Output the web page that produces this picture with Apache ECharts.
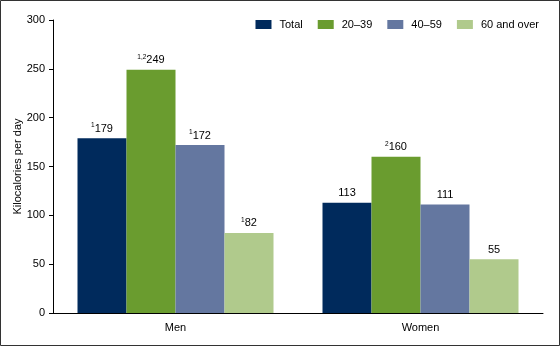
<!DOCTYPE html>
<html>
<head>
<meta charset="utf-8">
<script src="https://cdn.jsdelivr.net/npm/echarts@6/dist/echarts.min.js"></script>
<style>
html,body{margin:0;padding:0;background:#fff;}
#chart{width:560px;height:346px;}
</style>
</head>
<body>
<div id="chart"></div>
<script>
var categories = ['Men', 'Women'];
var seriesNames = ['Total', '20\u201339', '40\u201359', '60 and over'];
var totalValues = [179, 113];
var age2039Values = [249, 160];
var age4059Values = [172, 111];
var age60Values = [82, 55];
var totalNotes = ['1', ''];
var age2039Notes = ['1,2', '2'];
var age4059Notes = ['1', ''];
var age60Notes = ['1', ''];
var yTicks = [0, 50, 100, 150, 200, 250, 300];
var yAxisTitle = 'Kilocalories per day';

var colors = ['#002a5c', '#6a9c2f', '#6477a0', '#b0ca8c'];
var font = 'Liberation Sans, Arial, Helvetica, sans-serif';

function makeSeries(name, values, notes, color) {
  return {
    name: name,
    type: 'bar',
    data: values,
    barGap: '0%',
    barCategoryGap: '20%',
    itemStyle: { color: color },
    label: {
      show: true,
      position: 'top',
      distance: 3,
      formatter: function (p) {
        var n = notes[p.dataIndex];
        return (n ? '{sup|' + n + '}' : '') + '{v|' + p.value + '}';
      },
      rich: {
        v: { fontSize: 11, fontFamily: font, color: '#000', lineHeight: 13 },
        sup: { fontSize: 6.5, fontFamily: font, color: '#000', verticalAlign: 'top', lineHeight: 13, padding: [0, 0, 5, 0] }
      }
    }
  };
}

var chart = echarts.init(document.getElementById('chart'), null, { renderer: 'canvas' });
chart.setOption({
  animation: false,
  backgroundColor: '#fff',
  color: colors,
  textStyle: { fontFamily: font },
  grid: { left: 53, right: 17, top: 20, bottom: 33, containLabel: false, outerBoundsMode: 'none' },
  legend: {
    top: 14,
    right: 16,
    itemWidth: 16,
    itemHeight: 9,
    itemGap: 15,
    icon: 'rect',
    textStyle: { fontSize: 11, fontFamily: font, color: '#000', padding: [0, 0, 0, 3] },
    data: seriesNames
  },
  xAxis: {
    type: 'category',
    data: categories,
    axisLine: { lineStyle: { color: '#000', width: 1 } },
    axisTick: { show: false },
    axisLabel: { fontSize: 11, color: '#000', margin: 9, fontFamily: font }
  },
  yAxis: {
    type: 'value',
    min: yTicks[0],
    max: yTicks[yTicks.length - 1],
    interval: yTicks[1] - yTicks[0],
    name: yAxisTitle,
    nameLocation: 'middle',
    nameGap: 30,
    nameMoveOverlap: false,
    nameTextStyle: { fontSize: 11, color: '#000', fontFamily: font },
    axisLine: { show: true, lineStyle: { color: '#000', width: 1 } },
    axisTick: { show: true, length: 4, lineStyle: { color: '#000' } },
    splitLine: { show: false },
    axisLabel: { fontSize: 11, color: '#000', margin: 8, fontFamily: font }
  },
  graphic: [{
    type: 'rect',
    shape: { x: 0.5, y: 0.5, width: 559, height: 345 },
    style: { fill: null, stroke: '#333', lineWidth: 1 },
    silent: true
  }],
  series: [
    makeSeries(seriesNames[0], totalValues, totalNotes, colors[0]),
    makeSeries(seriesNames[1], age2039Values, age2039Notes, colors[1]),
    makeSeries(seriesNames[2], age4059Values, age4059Notes, colors[2]),
    makeSeries(seriesNames[3], age60Values, age60Notes, colors[3])
  ]
});
</script>
</body>
</html>
